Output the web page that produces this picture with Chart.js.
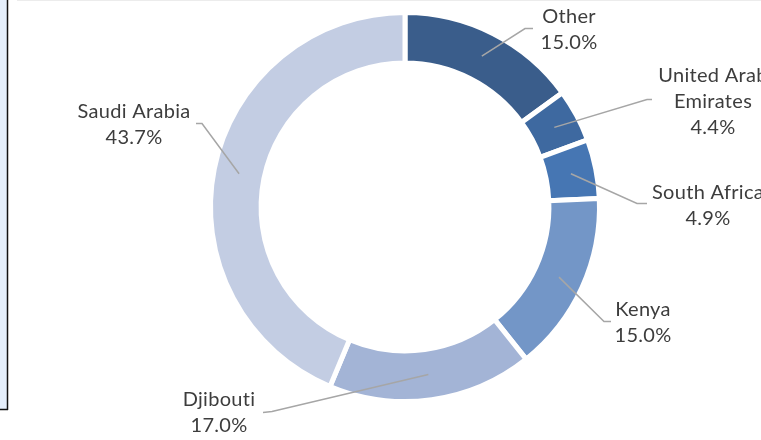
<!DOCTYPE html>
<html>
<head>
<meta charset="utf-8">
<script src="https://cdn.jsdelivr.net/npm/chart.js@4.4.0/dist/chart.umd.min.js"></script>
<style>
  html, body { margin: 0; padding: 0; background: #fff; }
  #wrap { position: relative; width: 761px; height: 440px; }
</style>
</head>
<body>
<div id="wrap"><canvas id="myChart" width="761" height="440"></canvas></div>
<script>
// data, clockwise from 12 o'clock
const countries = ['Other', 'United Arab Emirates', 'South Africa', 'Kenya', 'Djibouti', 'Saudi Arabia'];
const shares = [15.0, 4.4, 4.9, 15.0, 17.0, 43.7];
const labelText = [['Other'], ['United Arab', 'Emirates'], ['South Africa'], ['Kenya'], ['Djibouti'], ['Saudi Arabia']];

const sliceColors = ['#3a5d8b', '#3e69a0', '#4676b3', '#7396c7', '#a3b4d6', '#c3cde3'];

// where each label sits, relative to the donut centre:
// elbow of the leader line, end of the short tick, centre of the text block
const labelLayout = [
    { elbow: [120, -178.5], tick: [128, -178.5], text: [164, -177.5] },
    { elbow: [242, -107.5], tick: [247, -107.5], text: [308, -105.5] },
    { elbow: [232, -3.5],   tick: [242, -3.5],   text: [303, -1.5] },
    { elbow: [199, 114.5],  tick: [206, 114.5],  text: [238, 116] },
    { elbow: [-133, 204.5], tick: [-142, 205.5], text: [-186, 206] },
    { elbow: [-203, -83.5], tick: [-209, -83.5], text: [-271, -82.5] }
];

var ctx = document.getElementById('myChart');

const framePlugin = {
    id: 'frame',
    beforeDraw(chart) {
        const c = chart.ctx;
        c.save();
        c.fillStyle = '#ffffff';
        c.fillRect(0, 0, chart.width, chart.height);
        // bit of the neighbouring panel on the left
        c.fillStyle = '#e4eefb';
        c.fillRect(0, 0, 7, 409);
        c.strokeStyle = '#111111';
        c.lineWidth = 1.5;
        c.beginPath();
        c.moveTo(7.5, 0);
        c.lineTo(7.5, 410);
        c.moveTo(0, 409.5);
        c.lineTo(8, 409.5);
        c.stroke();
        c.strokeStyle = '#ececec';
        c.lineWidth = 1;
        c.beginPath();
        c.moveTo(17, 0.5);
        c.lineTo(chart.width, 0.5);
        c.stroke();
        c.restore();
    }
};

const calloutPlugin = {
    id: 'callouts',
    afterDatasetsDraw(chart) {
        const c = chart.ctx;
        const arcs = chart.getDatasetMeta(0).data;
        c.save();
        arcs.forEach(function (arc, i) {
            const cx = arc.x, cy = arc.y;
            const start = arc.tooltipPosition();
            const lay = labelLayout[i];
            c.strokeStyle = '#a6a6a6';
            c.lineWidth = 1.5;
            c.beginPath();
            c.moveTo(start.x, start.y);
            c.lineTo(cx + lay.elbow[0], cy + lay.elbow[1]);
            c.lineTo(cx + lay.tick[0], cy + lay.tick[1]);
            c.stroke();

            const lines = labelText[i].concat([shares[i].toFixed(1) + '%']);
            const step = 26;
            let y = cy + lay.text[1] - (lines.length - 1) * step / 2;
            c.fillStyle = '#3d3d3d';
            c.font = '20px Lato';
            c.letterSpacing = '0.3px'; // also stops the "ti" ligature
            c.textAlign = 'center';
            c.textBaseline = 'middle';
            lines.forEach(function (t) {
                c.fillText(t, cx + lay.text[0], y);
                y += step;
            });
        });
        c.restore();
    }
};

new Chart(ctx, {
    type: 'doughnut',
    data: {
        labels: countries,
        datasets: [{
            data: shares,
            backgroundColor: sliceColors,
            borderColor: '#ffffff',
            borderWidth: 5,
            hoverBorderWidth: 5
        }]
    },
    options: {
        responsive: false,
        animation: false,
        cutout: '74%',
        layout: {
            padding: { left: 208, right: 159, top: 10, bottom: 36 }
        },
        plugins: {
            legend: { display: false },
            tooltip: { enabled: false }
        }
    },
    plugins: [framePlugin, calloutPlugin]
});
</script>
</body>
</html>
